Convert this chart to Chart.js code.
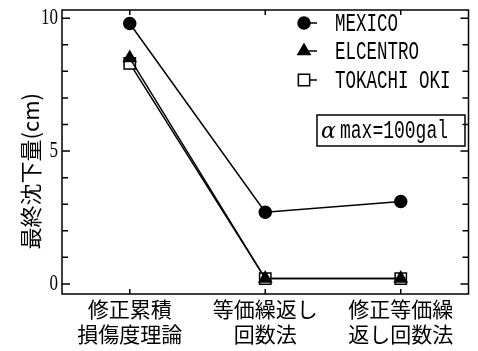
<!DOCTYPE html>
<html>
<head>
<meta charset="utf-8">
<script src="https://cdn.jsdelivr.net/npm/chart.js@4.4.0/dist/chart.umd.min.js"></script>
<style>
  html, body { margin: 0; padding: 0; background: #fff; }
  canvas { display: block; }
</style>
</head>
<body>
<canvas id="chart" width="478" height="351"></canvas>
<script>
// Data
const categories = [['修正累積', '損傷度理論'], ['等価繰返し', '回数法'], ['修正等価繰', '返し回数法']];
const seriesNames = ['MEXICO', 'ELCENTRO', 'TOKACHI OKI'];
const mexico = [9.8, 2.7, 3.1];
const elcentro = [8.5, 0.2, 0.2];
const tokachi = [8.3, 0.2, 0.2];
const yTicks = [0, 1, 2, 3, 4, 5, 6, 7, 8, 9, 10];
const yLabels = [0, 5, 10];
const yTitle = '最終沈下量(cm)';
const noteSymbol = 'α';
const noteText = 'max=100gal';

const CJK = '"Noto Sans CJK JP", "Noto Sans CJK SC", sans-serif';

// stretched text, the figure uses a tall narrow typewriter face
function tallText(ctx, text, x, y, font, sx, sy, align) {
  ctx.save();
  ctx.font = font;
  ctx.textAlign = align || 'left';
  ctx.textBaseline = 'middle';
  ctx.fillStyle = '#000';
  ctx.translate(x, y);
  ctx.scale(sx, sy);
  ctx.fillText(text, 0, 0);
  ctx.restore();
}

function marker(ctx, ds, x, y) {
  ctx.save();
  ctx.fillStyle = ds.pointBackgroundColor;
  ctx.strokeStyle = ds.pointBorderColor;
  ctx.lineWidth = ds.pointBorderWidth;
  Chart.helpers.drawPoint(ctx, {
    pointStyle: ds.pointStyle, radius: ds.pointRadius, rotation: 0, borderWidth: ds.pointBorderWidth
  }, x, y);
  ctx.restore();
}

// frame with inward ticks on all four sides
const framePlugin = {
  id: 'frame',
  beforeDatasetsDraw(chart) {
    const { ctx, chartArea: ca, scales } = chart;
    ctx.save();
    ctx.strokeStyle = '#000';
    ctx.lineWidth = 1.5;
    ctx.strokeRect(ca.left, ca.top, ca.right - ca.left, ca.bottom - ca.top);
    ctx.beginPath();
    yTicks.forEach(v => {
      const py = scales.y.getPixelForValue(v);
      const len = yLabels.includes(v) ? 8 : 6;
      ctx.moveTo(ca.left, py); ctx.lineTo(ca.left + len, py);
      ctx.moveTo(ca.right - len, py); ctx.lineTo(ca.right, py);
    });
    categories.forEach((c, i) => {
      const px = scales.x.getPixelForValue(i);
      ctx.moveTo(px, ca.bottom); ctx.lineTo(px, ca.bottom - 5);
      ctx.moveTo(px, ca.top); ctx.lineTo(px, ca.top + 5);
    });
    ctx.stroke();
    ctx.restore();

    yLabels.forEach(v => {
      tallText(ctx, String(v), ca.left - 4, scales.y.getPixelForValue(v), '17px "Liberation Serif"', 1, 1.3, 'right');
    });
  },
  afterDraw(chart) {
    const { ctx } = chart;
    const rows = [23, 51, 80];
    chart.data.datasets.forEach((ds, i) => {
      const y = rows[i];
      ctx.save();
      ctx.strokeStyle = '#000';
      ctx.lineWidth = 1.5;
      ctx.beginPath();
      ctx.moveTo(304, y); ctx.lineTo(317, y);
      ctx.stroke();
      ctx.restore();
      marker(ctx, ds, 304, y);
      tallText(ctx, ds.label, 335, y + 1, '17.5px "Liberation Mono"', 1, 1.45);
    });

    // note box
    ctx.save();
    ctx.strokeStyle = '#000';
    ctx.lineWidth = 1.5;
    ctx.strokeRect(317, 115, 148, 31);
    ctx.restore();
    tallText(ctx, noteSymbol, 321, 132, 'italic 22px "DejaVu Serif"', 1, 1);
    tallText(ctx, noteText, 340, 131, '18px "Liberation Mono"', 1, 1.4);
  }
};

const common = {
  borderColor: '#000',
  borderWidth: 1.5,
  pointBorderColor: '#000',
  pointBorderWidth: 1.5,
  tension: 0,
  fill: false,
};

new Chart(document.getElementById('chart').getContext('2d'), {
  type: 'line',
  data: {
    labels: categories,
    datasets: [
      { ...common, label: seriesNames[0], data: mexico, pointStyle: 'circle', pointRadius: 6, pointBackgroundColor: '#000' },
      { ...common, label: seriesNames[1], data: elcentro, pointStyle: 'triangle', pointRadius: 7, pointBackgroundColor: '#000' },
      { ...common, label: seriesNames[2], data: tokachi, pointStyle: 'rect', pointRadius: 8, pointBackgroundColor: '#fff' },
    ],
  },
  options: {
    responsive: false,
    animation: false,
    devicePixelRatio: 1,
    layout: { padding: { top: 10, right: 1, left: 0, bottom: 0 } },
    plugins: { legend: { display: false }, tooltip: { enabled: false } },
    scales: {
      x: {
        type: 'category',
        offset: true,
        grid: { display: false, drawTicks: false },
        border: { display: false },
        ticks: { color: '#000', padding: 2, maxRotation: 0, autoSkip: false, font: { family: CJK, size: 21, lineHeight: 1.2 } },
        afterFit(scale) { scale.height = 57; },
      },
      y: {
        min: -0.38,
        max: 10.31,
        grid: { display: false, drawTicks: false },
        border: { display: false },
        ticks: { display: false },
        title: {
          display: true,
          text: yTitle + '\u3000\u2002\u2005',
          color: '#000',
          padding: { top: 17, bottom: 0 },
          font: { family: CJK, size: 22 },
        },
        afterFit(scale) { scale.width = 62; },
      },
    },
  },
  plugins: [framePlugin],
});
</script>
</body>
</html>
